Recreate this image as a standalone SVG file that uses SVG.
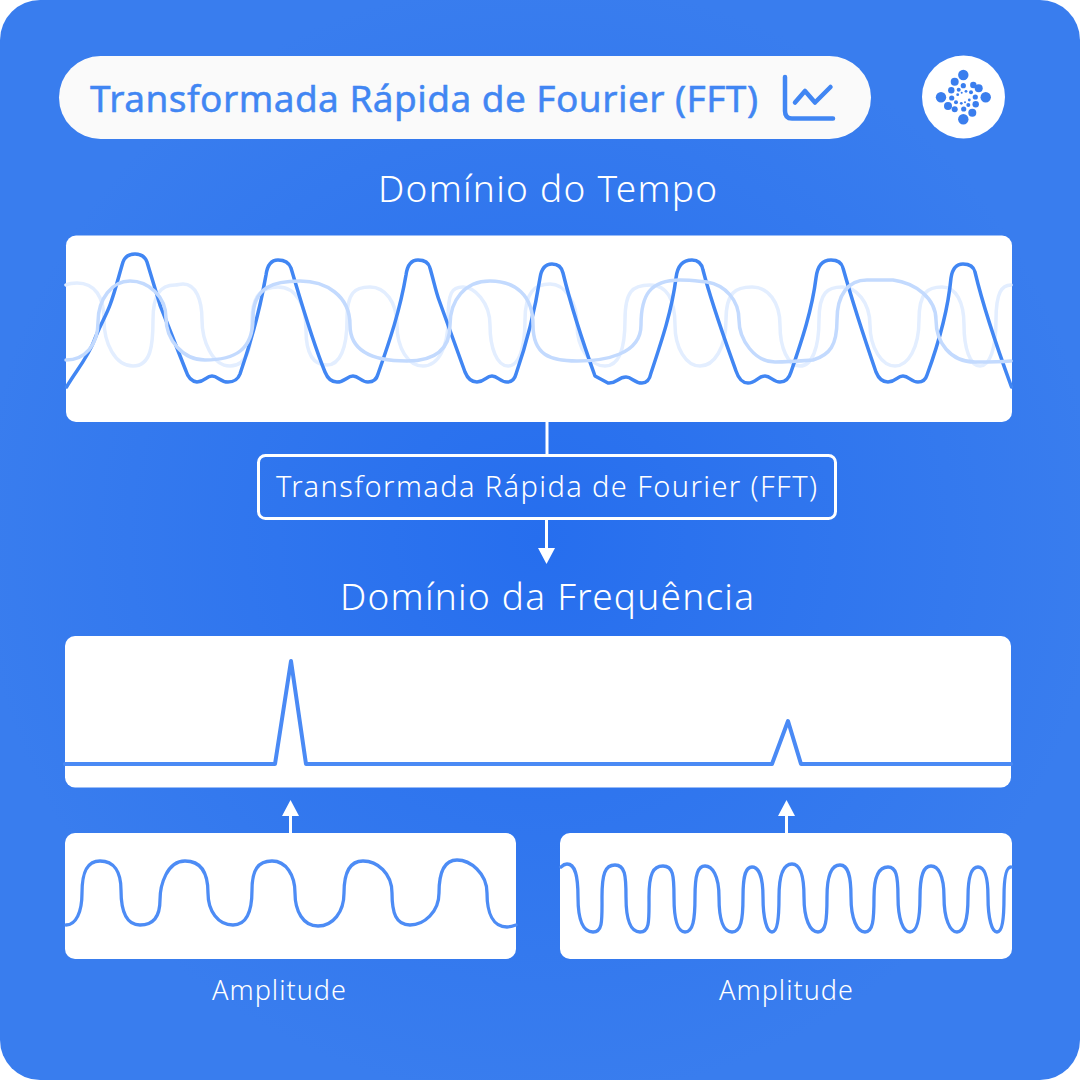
<svg xmlns="http://www.w3.org/2000/svg" width="1080" height="1080" viewBox="0 0 1080 1080">
<style>
text{font-family:"Noto Sans","Open Sans",sans-serif}
.h{font-size:37px;fill:#fff;font-weight:300}
.a{font-size:27px;fill:#fff;font-weight:300}
.panel{fill:#fff}
.w{fill:none;stroke-linecap:round;stroke-linejoin:round}
.d{stroke:#4186f3;stroke-width:3.500}
.m{stroke:#c3dafe;stroke-width:3.500}
.l{stroke:#e3eeff;stroke-width:3.500}
.s{stroke:#4d8cf5;stroke-width:3.300}
.c{fill:none;stroke:#fff;stroke-width:3}
.i{fill:none;stroke:#4186f3;stroke-width:4.500;stroke-linecap:round;stroke-linejoin:round}
.dot{fill:#3a7eee}
</style>
<defs>
<radialGradient id="bg" gradientUnits="userSpaceOnUse" cx="540" cy="540" r="560">
<stop offset="0" stop-color="#266eee"/><stop offset="1" stop-color="#397dee"/>
</radialGradient>
</defs>
<rect width="1080" height="1080" fill="#fff"/>
<rect width="1080" height="1080" rx="40" fill="url(#bg)"/>

<g id="title">
<rect x="59" y="56" width="812" height="83" rx="41.500" fill="#fafafa"/>
<text x="90" y="112" font-size="37" fill="#4186f3" stroke="#4186f3" stroke-width="0.500" textLength="668" lengthAdjust="spacing">Transformada Rápida de Fourier (FFT)</text>
<path class="i" d="M785,77V111Q785,118.500 792,118.500H833"/>
<path class="i" d="M795,102.500L805,91L815,102.500L830.500,87"/>
</g>

<g id="logo">
<circle cx="963.500" cy="97" r="41.500" fill="#fff"/>
<g class="dot">
<circle cx="963.300" cy="75" r="5.200"/><circle cx="941" cy="97.300" r="5.200"/><circle cx="985.700" cy="97.300" r="5.200"/><circle cx="963.300" cy="119.300" r="5.200"/>
<circle cx="954.700" cy="81.700" r="4"/><circle cx="978.700" cy="88.300" r="4"/><circle cx="972.300" cy="112.700" r="4"/><circle cx="948" cy="106" r="4"/>
<circle cx="973.300" cy="85" r="3.200"/><circle cx="951.300" cy="90.300" r="3.200"/><circle cx="975.700" cy="104.300" r="3.200"/><circle cx="954.700" cy="109.300" r="3"/>
<circle cx="963.300" cy="85.700" r="2.600"/><circle cx="975.300" cy="97" r="2.600"/><circle cx="963.700" cy="109" r="2.600"/><circle cx="951.700" cy="98" r="2.600"/>
<circle cx="958.700" cy="89.700" r="2"/><circle cx="971" cy="92.300" r="2"/><circle cx="968.300" cy="105" r="2"/><circle cx="956" cy="102.300" r="2"/>
<circle cx="966" cy="91.300" r="1.400"/><circle cx="969.300" cy="100" r="1.400"/><circle cx="961.300" cy="103.300" r="1.400"/><circle cx="957.700" cy="94.700" r="1.400"/>
<circle cx="965" cy="102.300" r="1"/><circle cx="961.700" cy="92.700" r="1"/>
</g>
</g>

<g id="time-heading"><text class="h" x="378" y="202" textLength="339" lengthAdjust="spacing">Domínio do Tempo</text></g>

<g id="time-panel">
<rect class="panel" x="66" y="235.500" width="946" height="186.500" rx="10"/>
<path class="w l" d="M66,285C70,283 73,283 77,283C95,283 104,297 104,320S115,366 133,366S153,345 153,320S160,285 175,285C178,285 180,284 183,284C196,284 202,300 202,320S212,366 230,366S252,345 252,320S262,287 278,287C296,287 306,305 306,330S314,365 327,365S347,348 347,320S355,287 370,287S397,302 397,325S408,366 423,366S448,348 448,320S452,287 463,287S490,302 490,325S497,366 508,366S525,348 525,320S535,284 550,284S577,302 577,325S590,366 605,366S625,348 625,320S632,285 650,285S675,302 675,325S686,366 700,366S726,348 726,320S736,287 752,287S780,302 780,325S788,366 800,366S819,348 819,320S828,287 842,287S870,302 870,325S882,366 895,366S919,348 919,320S928,287 942,287S964,302 964,325S970,366 980,366S996,348 996,320S1002,285 1011,285"/>
<path class="w d" d="M66.500,387C76,371 88,357 94,341C100,325 106,316 110,305C115,292 119,275 123,262Q126,254 135,254Q144,254 147,262L160,305L186,371Q189,381 197,382C205,382 206,376 212,376C218,376 220,382 228,382Q237,382 240,374C250,345 260,310 266,275Q268,260 278,260Q288,260 291,268C302,305 312,340 325,372Q329,382 337,382C345,382 347,376 353,376C359,376 361,382 368,382Q376,382 378,374C390,340 400,310 406,275Q408,260 418,260Q428,260 430,268C434,282 436,292 439,300L465,372Q469,382 477,382C485,382 486,376 492,376C498,376 500,382 507,382Q514,382 516,374C526,345 535,310 540,278Q542,264 552,264Q561,264 563,273C572,310 582,340 595,376L608,383C616,384 618,377 626,377C632,377 634,383 642,383Q649,383 651,373C662,340 672,310 676,278Q678,260 692,260Q701,260 703,270C712,305 725,340 736,371Q740,383 748,383C756,383 758,376 765,376C771,376 773,382 780,382Q788,382 791,372C802,340 812,310 816,278Q818,260 831,260Q841,260 843,268C852,300 865,340 876,372Q880,382 888,382C896,382 897,376 903,376C909,376 911,382 918,382Q925,382 927,375C938,345 948,310 951,278Q953,264 963,264Q973,264 975,272C984,310 998,350 1011.500,387"/>
<path class="w m" d="M66,360C85,360 98,345 98,322S112,281 130,281S166,296 166,318S183,360 205,360C235,360 253,350 253,318S275,281 300,281S350,295 350,325S380,361 407,361S450,350 450,325S465,281 490,281S533,295 533,325S550,361 577,361S641,355 641,325S650,280 680,280C690,280 697,281 707,282C725,285 739,300 739,320S755,362 775,362C785,362 800,361 813,360C830,355 837,345 837,320S848,280 867,280C875,280 885,280 893,280C915,283 936,298 936,320S950,362 975,362C990,362 1000,362 1011,361"/>
</g>

<g id="fft-box">
<rect x="258.500" y="455.500" width="577" height="63" rx="7" fill="none" stroke="#fff" stroke-width="3"/>
<text x="276" y="497" font-size="29" font-weight="300" fill="#fff" textLength="541" lengthAdjust="spacing">Transformada Rápida de Fourier (FFT)</text>
</g>

<g id="connectors">
<path class="c" d="M547,422V455"/>
<path class="c" d="M546.500,519V550"/>
<path d="M538,548H555L546.500,564Z" fill="#fff"/>
<path class="c" d="M290.500,834V815"/>
<path d="M282,816H299L290.500,800Z" fill="#fff"/>
<path class="c" d="M786.500,834V815"/>
<path d="M778,816H795L786.500,800Z" fill="#fff"/>
</g>

<g id="freq-heading"><text class="h" x="340" y="610" textLength="414" lengthAdjust="spacing">Domínio da Frequência</text></g>

<g id="freq-panel">
<rect class="panel" x="65" y="636" width="946" height="151.500" rx="10"/>
<path class="w" stroke="#4a8af5" stroke-width="4" stroke-linecap="butt" d="M65,764H275L291,661L306,764H772L788,721L801,764H1011"/>
</g>

<g id="wave-low">
<rect class="panel" x="65" y="833" width="451" height="126" rx="10"/>
<path class="w s" d="M66,925C76,925 82,912 82,893S86,861 100,861S121,872 121,890S125,925 140,925S160,915 160,900S167,861 185,861S208,875 208,893S218,925 233,925S252,910 252,890S258,861 272,861S295,875 295,893S303,926 318,926S344,912 344,893S349,861 363,861S392,873 392,893S396,925 410,925S439,912 439,893S444,860 457,860S487,873 487,893S493,927 507,927C510,927 513,926 516,925"/>
<text class="a" x="212" y="1000" textLength="134" lengthAdjust="spacing">Amplitude</text>
</g>

<g id="wave-high">
<rect class="panel" x="560" y="833" width="452" height="126" rx="10"/>
<path class="w s" d="M561,867C563,865 565,864 567,864C575,864 578,875 578,897S583,932 593,932S602,920 602,897S605,865 615,865S626,875 626,897S630,932 640,932S649,920 649,897S653,866 663,866S674,875 674,897S677,932 685,932S695,920 695,897S698,866 705,866S719,875 719,897S723,932 732,932S743,920 743,897S746,867 752,867S763,875 763,897S767,932 772,932S779,920 779,897S784,864 792,864S804,875 804,897S810,932 818,932S827,920 827,897S832,865 840,865S851,875 851,897S857,932 865,932S874,920 874,897S880,867 888,867S898,875 898,897S903,932 910,932S920,920 920,897S924,866 931,866S944,875 944,897S950,932 957,932S968,920 968,897S972,867 978,867S988,875 988,897S992,932 997,932S1004,920 1004,897S1007,867 1011,867"/>
<text class="a" x="719" y="1000" textLength="134" lengthAdjust="spacing">Amplitude</text>
</g>
</svg>
